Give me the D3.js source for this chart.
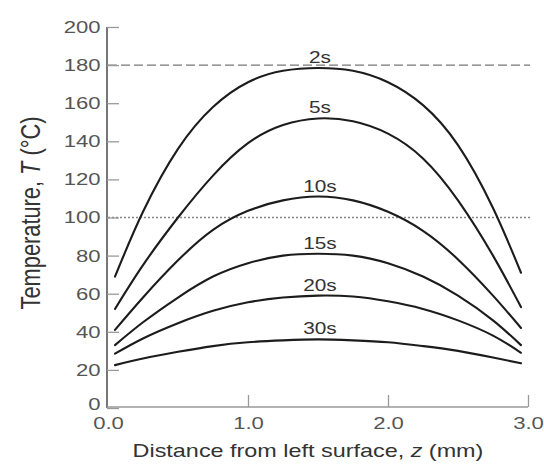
<!DOCTYPE html>
<html>
<head>
<meta charset="utf-8">
<script src="https://cdn.jsdelivr.net/npm/d3@7"></script>
<style>
  html, body { margin: 0; padding: 0; background: #fff; }
  svg { display: block; }
  text { font-family: "Liberation Sans", Arial, sans-serif; }
</style>
</head>
<body>
<svg id="chart" width="544" height="468"></svg>
<script>
// ---- data ----
const zPositions = [0.05, 0.25, 0.5, 0.75, 1.0, 1.25, 1.5, 1.75, 2.0, 2.25, 2.5, 2.75, 2.95];
const seriesNames = ["2s", "5s", "10s", "15s", "20s", "30s"];
const temp2s  = [69, 103, 136, 158, 171, 177, 178.5, 177, 171, 159, 138, 105, 71];
const temp5s  = [52, 75, 100, 122, 139, 148.5, 152, 150.5, 144, 131, 109, 80, 53];
const temp10s = [41, 58, 77.5, 93.5, 103.5, 109, 111, 109, 103, 93, 78, 59, 42];
const temp15s = [33, 45, 58, 69, 76, 80, 81, 80, 76, 69, 59, 46, 33];
const temp20s = [28.5, 36.5, 44.5, 51, 55.5, 58, 59, 58.5, 56, 52, 46, 38, 29];
const temp30s = [22.5, 26, 29.5, 32.5, 34.5, 35.5, 36, 35.5, 34.5, 32.5, 30, 26.5, 23.5];
const seriesValues = [temp2s, temp5s, temp10s, temp15s, temp20s, temp30s];
const xTicks = [0, 1, 2, 3];
const yTicks = [0, 20, 40, 60, 80, 100, 120, 140, 160, 180, 200];
const dashedLevel = 180;
const dottedLevel = 100;
const xTitle = "Distance from left surface, ";
const xTitleVar = "z";
const xTitleUnit = " (mm)";
const yTitle = "Temperature, ";
const yTitleVar = "T";
const yTitleUnit = " (°C)";

// ---- drawing ----
const STRETCH = 1.3;
const svg = d3.select("#chart");
const x = d3.scaleLinear().domain([0, 3]).range([108, 528]);
const y = d3.scaleLinear().domain([0, 200]).range([408, 27]);

// reference lines
svg.append("line")
  .attr("x1", x(0)).attr("x2", x(3) + 2)
  .attr("y1", y(dashedLevel)).attr("y2", y(dashedLevel))
  .attr("stroke", "#777").attr("stroke-width", 1.4)
  .attr("stroke-dasharray", "9,4");
svg.append("line")
  .attr("x1", x(0)).attr("x2", x(3) + 2)
  .attr("y1", y(dottedLevel)).attr("y2", y(dottedLevel))
  .attr("stroke", "#888").attr("stroke-width", 1.4)
  .attr("stroke-dasharray", "2,2");

// axes
const yAxis = svg.append("g")
  .attr("transform", `translate(${x(0) - 1},0)`)
  .call(d3.axisLeft(y).tickValues(yTicks).tickSize(-12).tickPadding(5).tickSizeOuter(0));
yAxis.select(".domain").attr("stroke", "#555").attr("stroke-width", 1.6)
  .attr("d", `M0,${y(200)}V${y(0)}`);
yAxis.selectAll(".tick line").attr("stroke", "#999").attr("stroke-width", 1.3);
yAxis.selectAll(".tick text")
  .attr("fill", "#555").style("font-size", "17px")
  .attr("font-family", null)
  .attr("transform", d => `translate(0,${d === 0 ? -4 : 0}) scale(${STRETCH},1)`);

const xAxis = svg.append("g")
  .attr("transform", `translate(0,${y(0) - 1})`)
  .call(d3.axisBottom(x).tickValues(xTicks).tickSize(-12).tickPadding(10)
    .tickSizeOuter(0).tickFormat(d3.format(".1f")));
xAxis.select(".domain").attr("stroke", "#999").attr("stroke-width", 1.6)
  .attr("d", `M${x(0) - 1},0H${x(3)}`);
xAxis.selectAll(".tick line").attr("stroke", "#999").attr("stroke-width", 1.3)
  .filter(d => d === 0).remove();
xAxis.selectAll(".tick text")
  .attr("fill", "#555").style("font-size", "17px")
  .attr("font-family", null)
  .attr("transform", `scale(${STRETCH},1)`);

// curves
const line = d3.line()
  .x(d => x(d[0])).y(d => y(d[1]))
  .curve(d3.curveNatural);
seriesValues.forEach((vals, i) => {
  const pts = zPositions.map((z, j) => [z, vals[j]]);
  svg.append("path")
    .attr("d", line(pts))
    .attr("fill", "none")
    .attr("stroke", "#1c1c1c")
    .attr("stroke-width", 2.1)
    .attr("stroke-linecap", "round");
  const peak = d3.max(vals);
  svg.append("text")
    .attr("transform", `translate(${x(1.5) + 2},${y(peak) - 5}) scale(${STRETCH},1)`)
    .attr("text-anchor", "middle")
    .attr("fill", "#333")
    .style("font-size", "16px")
    .text(seriesNames[i]);
});

// x title
const xt = svg.append("text")
  .attr("text-anchor", "middle")
  .attr("fill", "#333")
  .style("font-size", "18px");
xt.append("tspan").text(xTitle);
xt.append("tspan").style("font-style", "italic").text(xTitleVar);
xt.append("tspan").text(xTitleUnit);
{
  const len = xt.node().getComputedTextLength();
  const sx = 351 / len;
  xt.attr("transform", `translate(308,457) scale(${sx},1)`);
}

// y title
const yt = svg.append("text")
  .attr("text-anchor", "middle")
  .attr("fill", "#333")
  .style("font-size", "18px");
yt.append("tspan").text(yTitle);
yt.append("tspan").style("font-style", "italic").text(yTitleVar);
yt.append("tspan").text(yTitleUnit);
{
  const len = yt.node().getComputedTextLength();
  const fs = 18 * 193 / len;
  yt.style("font-size", fs + "px");
  yt.attr("transform", `translate(40,213) scale(${STRETCH},1) rotate(-90)`);
}
</script>
</body>
</html>
